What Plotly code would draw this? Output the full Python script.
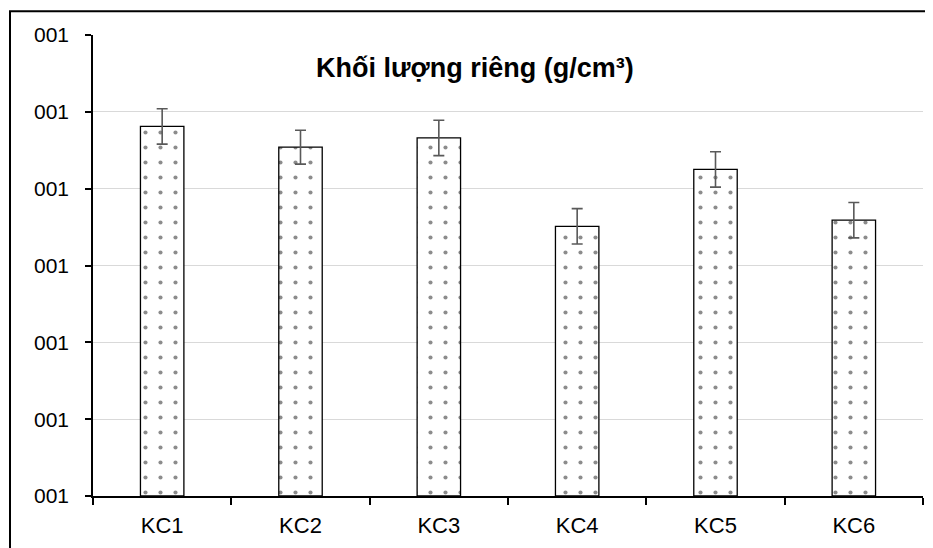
import plotly.graph_objects as go

categories = ["KC1", "KC2", "KC3", "KC4", "KC5", "KC6"]
values = [4.81, 4.54, 4.66, 3.51, 4.25, 3.59]
errors = [0.23, 0.22, 0.23, 0.23, 0.23, 0.23]
tick_vals = [0, 1, 2, 3, 4, 5, 6]
tick_text = ["001"] * 7
title_text = "Khối lượng riêng (g/cm³)"

OFF = 8  # default page body margin
W, H = 925, 540
ml, mr, mt, mb = 85, 10, 27, 45
pw, ph = W - ml - mr, H - mt - mb

def px_to_paper_x(px):
    return (px - OFF - ml) / pw

def px_to_paper_y(py):
    return (H - mb - (py - OFF)) / ph

fig = go.Figure()
fig.add_trace(go.Bar(
    x=categories,
    y=values,
    marker=dict(
        color="white",
        line=dict(color="black", width=1.3),
        pattern=dict(shape=".", size=15, solidity=0.06, fgcolor="#1a1a1a", bgcolor="white"),
    ),
    error_y=dict(type="data", array=errors, visible=True, color="#595959", thickness=1.6, width=5.5),
))

fig.update_layout(
    width=W, height=H,
    margin=dict(l=ml, r=mr, t=mt, b=mb),
    paper_bgcolor="white",
    plot_bgcolor="white",
    showlegend=False,
    bargap=0.686,
    font=dict(family="Liberation Sans, Arial, sans-serif", size=21, color="black"),
    xaxis=dict(
        type="category",
        showline=True, linecolor="black", linewidth=1.5,
        ticks="outside", tickson="boundaries", ticklen=7, tickwidth=1.5, tickcolor="black",
        showgrid=False,
        tickfont=dict(size=22, color="black"),
        ticklabelstandoff=9,
    ),
    yaxis=dict(
        range=[0, 6],
        tickvals=tick_vals, ticktext=tick_text,
        showline=True, linecolor="black", linewidth=1.5,
        ticks="outside", ticklen=6, tickwidth=1.5, tickcolor="black",
        showgrid=True, gridcolor="#d9d9d9", gridwidth=1.2,
        zeroline=False,
        tickfont=dict(size=21, color="black"),
        ticklabelstandoff=12,
    ),
    annotations=[dict(
        text="<b>" + title_text + "</b>",
        x=px_to_paper_x(475), y=px_to_paper_y(68),
        xref="paper", yref="paper",
        xanchor="center", yanchor="middle",
        showarrow=False,
        font=dict(size=27, color="black", family="Liberation Sans, Arial, sans-serif"),
    )],
    shapes=[dict(
        type="rect", xref="paper", yref="paper",
        x0=px_to_paper_x(10), x1=px_to_paper_x(960),
        y0=px_to_paper_y(580), y1=px_to_paper_y(11),
        line=dict(color="black", width=2),
        fillcolor="rgba(0,0,0,0)",
        layer="above",
    )],
)

fig.write_html("out.html")
